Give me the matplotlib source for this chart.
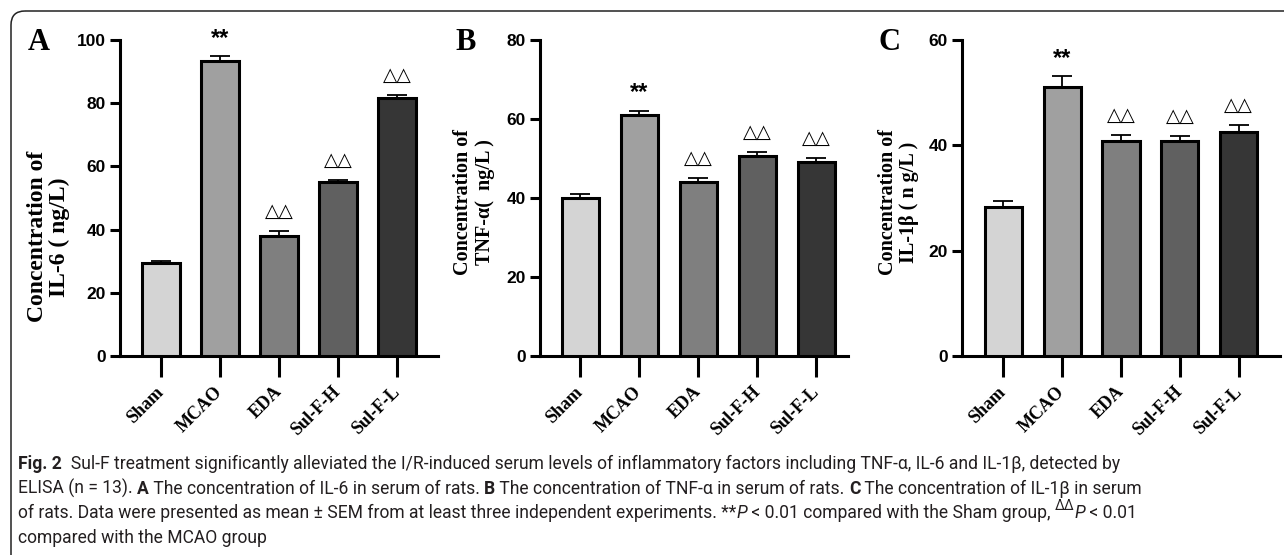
import numpy as np
import matplotlib
matplotlib.use('Agg')
import matplotlib.pyplot as plt
from matplotlib import font_manager
from matplotlib.patches import FancyBboxPatch

# datos
grupos = ['Sham', 'MCAO', 'EDA', 'Sul-F-H', 'Sul-F-L']
il6 = [29.4, 93.2, 38.0, 55.1, 81.5]
il6_sem = [0.6, 1.6, 1.7, 0.7, 1.0]
tnf = [39.9, 61.0, 44.0, 50.6, 49.1]
tnf_sem = [1.1, 1.1, 1.0, 1.1, 1.1]
il1b = [28.3, 51.0, 40.9, 40.8, 42.6]
il1b_sem = [1.1, 2.1, 1.0, 1.0, 1.2]
marcas = ['', '**', '△△', '△△', '△△']
colores = ['#d4d4d4', '#a0a0a0', '#7f7f7f', '#606060', '#363636']

SERIF = 'Liberation Serif'
SANS = 'Liberation Sans'
nombres = {f.name for f in font_manager.fontManager.ttflist}
CAP = 'Liberation Sans Narrow' if 'Liberation Sans Narrow' in nombres else 'Roboto'

W, H = 1284, 555
fig = plt.figure(figsize=(W / 100, H / 100), dpi=100)

# fondo en pixeles (marco redondeado + pie de figura)
bg = fig.add_axes([0, 0, 1, 1], zorder=0)
bg.set_xlim(0, W)
bg.set_ylim(H, 0)
bg.axis('off')
bg.add_patch(FancyBboxPatch((11, 11), W + 40, H + 40,
                            boxstyle='round,pad=0,rounding_size=14',
                            fill=False, ec='#222222', lw=1.1))

paneles = [
    ('A', il6, il6_sem, 100, 20, 'Concentration of\nIL-6 ( ng/L)', 17,
     [120, 356, 438, 40], (-0.695, 4.695), (-0.225, 0.377), 28),
    ('B', tnf, tnf_sem, 80, 20, 'Concentration of\nTNF-α(  ng/L )', 14.5,
     [540, 356, 848, 40], (-0.68, 4.54), (-0.215, 0.487), 455),
    ('C', il1b, il1b_sem, 60, 20, 'Concentration of\nIL-1β ( n g/L )', 14.5,
     [962, 356, 1280, 40], (-0.70, 4.70), (-0.2, 0.487), 878),
]

x = np.arange(len(grupos))
for letra, vals, sem, ymax, paso, ylab, ylsize, caja, xlim, lpos, lx in paneles:
    x0, y0, x1, y1 = caja
    ax = fig.add_axes([x0 / W, 1 - y0 / H, (x1 - x0) / W, (y0 - y1) / H], zorder=2)
    ax.set_facecolor('none')
    ax.errorbar(x, vals, yerr=[np.zeros(len(vals)), sem], fmt='none', ecolor='black',
                elinewidth=1.3, capsize=7, capthick=1.3, zorder=2)
    ax.bar(x, vals, width=0.63, color=colores, edgecolor='black', linewidth=2.2, zorder=3)
    for xi, v, s, m in zip(x, vals, sem, marcas):
        if m == '**':
            ax.annotate(m, (xi, v + s), xytext=(0, 13), textcoords='offset points',
                        ha='center', va='center', fontsize=17, fontweight='bold', family=SANS)
        elif m:
            ax.annotate(m, (xi, v + s), xytext=(0, 14), textcoords='offset points',
                        ha='center', va='center', fontsize=13.5, family='DejaVu Sans')
    ax.set_xlim(*xlim)
    ax.set_ylim(0, ymax)
    ax.set_yticks(np.arange(0, ymax + 1, paso))
    for lado in ['top', 'right']:
        ax.spines[lado].set_visible(False)
    for lado in ['left', 'bottom']:
        ax.spines[lado].set_linewidth(2.2)
    ax.tick_params(axis='y', length=7, width=2.2, pad=3, labelsize=12.5)
    ax.tick_params(axis='x', length=15, width=2.2, pad=9)
    for t in ax.get_yticklabels():
        t.set_fontfamily(SANS)
        t.set_fontweight('bold')
    ax.set_xticks(x)
    ax.set_xticklabels(grupos, rotation=45, ha='right', va='center', rotation_mode='anchor',
                       fontsize=13, fontweight='bold', family=SERIF)
    ax.set_ylabel(ylab, fontsize=ylsize, fontweight='bold', family=SERIF,
                  va='center', ha='center', linespacing=1.1)
    ax.yaxis.set_label_coords(*lpos)
    bg.text(lx, 50, letra, fontsize=22, fontweight='bold', family=SERIF, va='baseline')

# pie de figura con tramos de distinto estilo
fig.canvas.draw()
rend = fig.canvas.get_renderer()


def ancho(txt, size, estilo):
    prop = font_manager.FontProperties(family=CAP, size=size,
                                       weight='bold' if estilo == 'b' else 'normal',
                                       style='italic' if estilo == 'i' else 'normal')
    w1 = rend.get_text_width_height_descent(txt + '|', prop, ismath=False)[0]
    w2 = rend.get_text_width_height_descent('|', prop, ismath=False)[0]
    return w1 - w2


lineas = [
    [('Fig. 2', 'b'), ('  Sul-F treatment significantly alleviated the I/R-induced serum levels of '
                       'inflammatory factors including TNF-α, IL-6 and IL-1β, detected by', 'n')],
    [('ELISA (n = 13). ', 'n'), ('A', 'b'), (' The concentration of IL-6 in serum of rats. ', 'n'),
     ('B', 'b'), (' The concentration of TNF-α in serum of rats. ', 'n'), ('C', 'b'),
     (' The concentration of IL-1β in serum', 'n')],
    [('of rats. Data were presented as mean ± SEM from at least three independent experiments. **', 'n'),
     ('P', 'i'), (' < 0.01 compared with the Sham group, ', 'n'), ('ΔΔ', 's'), ('P', 'i'),
     (' < 0.01', 'n')],
    [('compared with the MCAO group', 'n')],
]

base = 10
w_l1 = sum(ancho(t, base, e) for t, e in lineas[0])
tam = base * 1102 / w_l1

for i, partes in enumerate(lineas):
    xx = 18
    yy = 469 + i * 24.7
    for t, e in partes:
        s = tam * 0.8 if e == 's' else tam
        bg.text(xx, yy - (8 if e == 's' else 0), t, fontsize=s, family=CAP, color='#231f20',
                va='baseline', ha='left',
                fontweight='bold' if e == 'b' else 'normal',
                fontstyle='italic' if e == 'i' else 'normal')
        xx += ancho(t, s, e)

fig.savefig('out.png', dpi=100)
